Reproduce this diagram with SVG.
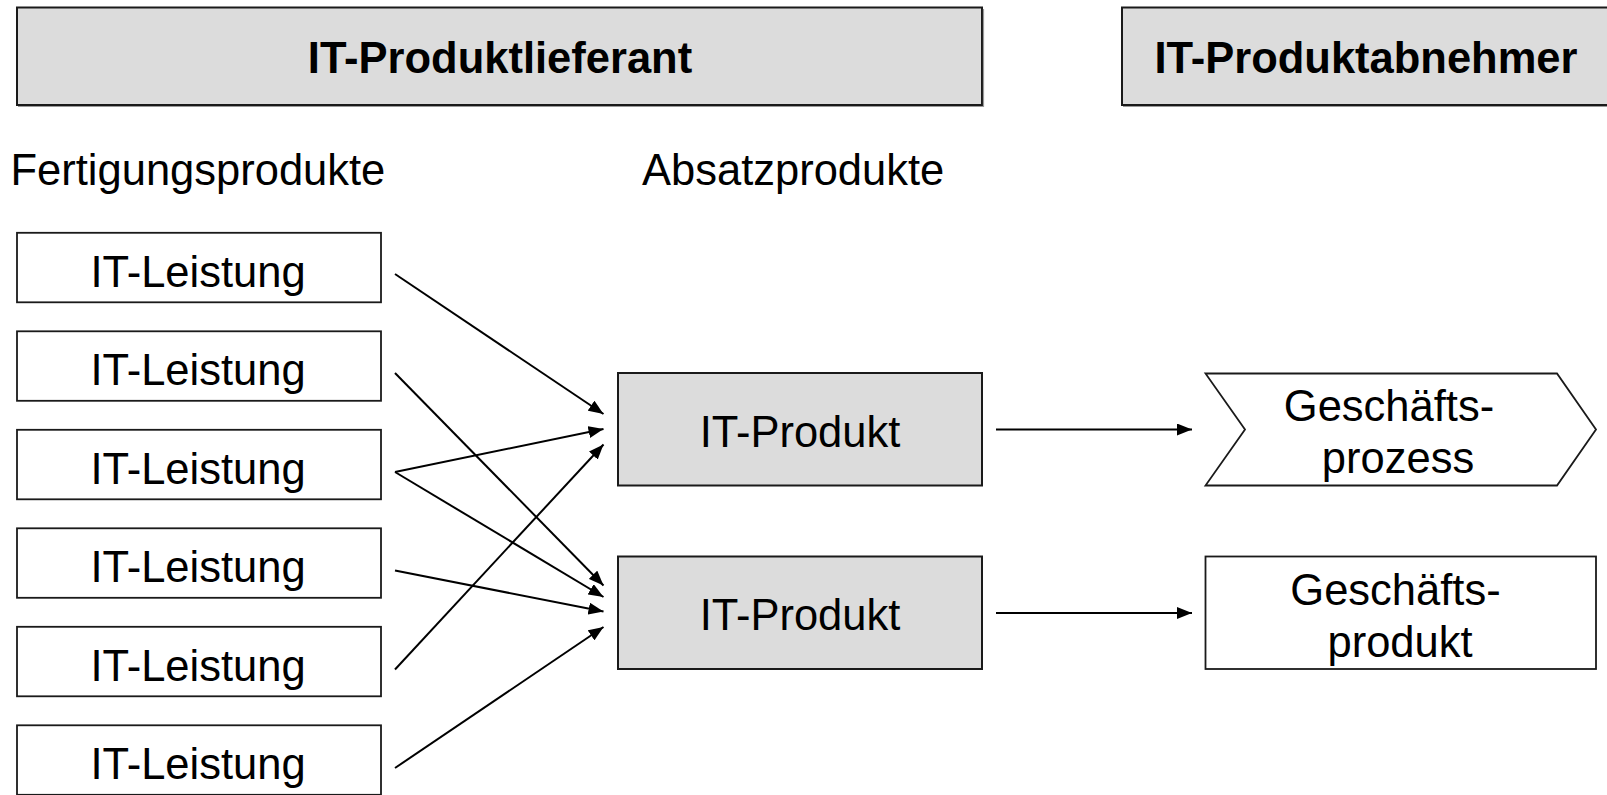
<svg xmlns="http://www.w3.org/2000/svg" width="1607" height="795" viewBox="0 0 1607 795">
<style>
text{font-family:"Liberation Sans",Arial,sans-serif;font-size:43.5px;fill:#000}
.b{font-weight:bold}
.m{text-anchor:middle}
.gray{fill:#dcdcdc;stroke:#1a1a1a;stroke-width:2}
.white{fill:#fff;stroke:#1a1a1a;stroke-width:1.8}
.shadow{stroke:#9a9a9a;stroke-width:1.2;fill:none}
.con{stroke:#000;stroke-width:2;fill:none;marker-end:url(#ah)}
</style>
<defs>
<marker id="ah" markerUnits="userSpaceOnUse" markerWidth="16" markerHeight="12" refX="15" refY="6" orient="auto">
<path d="M0,0 L15,6 L0,12 z" fill="#000"/>
</marker>
</defs>
<rect width="1607" height="795" fill="#fff"/>
<g id="hdr-lieferant">
<rect class="gray" x="17" y="7.5" width="965" height="97.5"/>
<path class="shadow" d="M18,106.5 H983.5 V9"/>
<text class="b m" x="500" y="73.3">IT-Produktlieferant</text>
</g>
<g id="hdr-abnehmer">
<rect class="gray" x="1122" y="7.5" width="500" height="97.5"/>
<path class="shadow" d="M1123,106.5 H1607"/>
<text class="b m" x="1366" y="73.3">IT-Produktabnehmer</text>
</g>
<g id="lbl-fertigung"><text x="10.5" y="185">Fertigungsprodukte</text></g>
<g id="lbl-absatz"><text x="642" y="185">Absatzprodukte</text></g>
<g id="l1"><rect class="white" x="17" y="232.8" width="364" height="69.5"/><text class="m" x="198" y="286.5">IT-Leistung</text></g>
<g id="l2"><rect class="white" x="17" y="331.3" width="364" height="69.5"/><text class="m" x="198" y="385">IT-Leistung</text></g>
<g id="l3"><rect class="white" x="17" y="429.8" width="364" height="69.5"/><text class="m" x="198" y="483.5">IT-Leistung</text></g>
<g id="l4"><rect class="white" x="17" y="528.3" width="364" height="69.5"/><text class="m" x="198" y="582">IT-Leistung</text></g>
<g id="l5"><rect class="white" x="17" y="626.8" width="364" height="69.5"/><text class="m" x="198" y="680.5">IT-Leistung</text></g>
<g id="l6"><rect class="white" x="17" y="725.3" width="364" height="69.5"/><text class="m" x="198" y="779">IT-Leistung</text></g>
<g id="p1"><rect class="gray" x="618" y="373" width="364" height="112.5"/><text class="m" x="800" y="446.5">IT-Produkt</text></g>
<g id="p2"><rect class="gray" x="618" y="556.5" width="364" height="112.5"/><text class="m" x="800" y="630">IT-Produkt</text></g>
<g id="gp">
<path class="white" d="M1205.5,373.5 H1557 L1596,429.5 L1557,485.5 H1205.5 L1245,429.5 Z"/>
<text class="m" x="1389" y="421">Geschäfts-</text>
<text class="m" x="1398" y="473">prozess</text>
</g>
<g id="gprod">
<rect class="white" x="1205.5" y="556.5" width="390.5" height="112.5"/>
<text class="m" x="1395.5" y="605">Geschäfts-</text>
<text class="m" x="1400" y="656.5">produkt</text>
</g>
<g id="connectors">
<line class="con" x1="395" y1="274" x2="603.5" y2="414"/>
<line class="con" x1="395" y1="373" x2="603.5" y2="585.5"/>
<line class="con" x1="395" y1="472" x2="603.5" y2="429"/>
<line class="con" x1="395" y1="472" x2="603.5" y2="597"/>
<line class="con" x1="395" y1="570.5" x2="603.5" y2="611.5"/>
<line class="con" x1="395" y1="669.5" x2="603.5" y2="444.5"/>
<line class="con" x1="395" y1="768" x2="603.5" y2="627"/>
<line class="con" x1="996" y1="429.5" x2="1192" y2="429.5"/>
<line class="con" x1="996" y1="613" x2="1192" y2="613"/>
</g>
</svg>
